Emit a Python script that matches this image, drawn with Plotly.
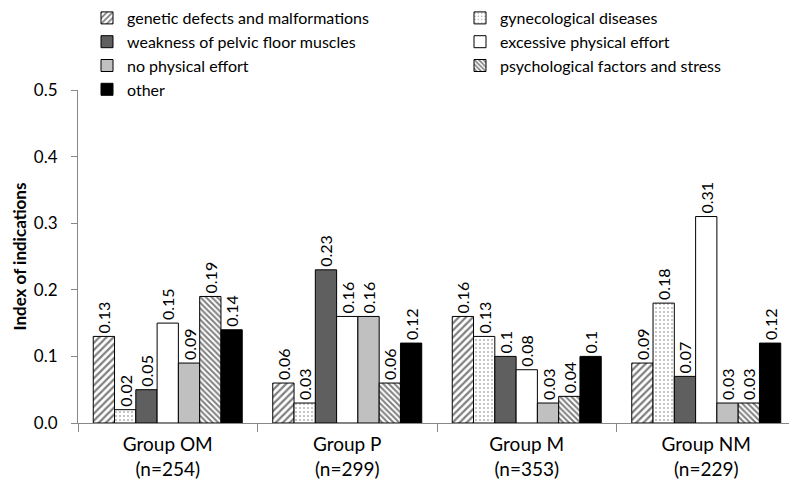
import plotly.graph_objects as go

groups = ["Group OM<br>(n=254)", "Group P<br>(n=299)", "Group M<br>(n=353)", "Group NM<br>(n=229)"]

genetic = [0.13, 0.06, 0.16, 0.09]
gynecological = [0.02, 0.03, 0.13, 0.18]
weakness = [0.05, 0.23, 0.10, 0.07]
excessive = [0.15, 0.16, 0.08, 0.31]
no_effort = [0.09, 0.16, 0.03, 0.03]
psychological = [0.19, 0.06, 0.04, 0.03]
other = [0.14, 0.12, 0.10, 0.12]

# name, values, fill, pattern, which legend column
series = [
    ("genetic defects and malformations", genetic, "white", dict(shape="/", fgcolor="black", bgcolor="white", size=5, solidity=0.45), "legend"),
    ("gynecological diseases", gynecological, "white", dict(shape=".", fgcolor="#666666", bgcolor="white", size=4, solidity=0.2), "legend2"),
    ("weakness of pelvic floor muscles", weakness, "#5f5f5f", None, "legend"),
    ("excessive physical effort", excessive, "white", None, "legend2"),
    ("no physical effort", no_effort, "#c0c0c0", None, "legend"),
    ("psychological factors and stress", psychological, "white", dict(shape="\\", fgcolor="black", bgcolor="white", size=4, solidity=0.5), "legend2"),
    ("other", other, "black", None, "legend"),
]

FONT = "Lato, Open Sans, sans-serif"
W, H = 789, 479  # page body adds an 8px margin
T, B = 82, 64
PH = H - T - B

fig = go.Figure()
for name, vals, color, pat, leg in series:
    marker = dict(color=color, line=dict(color="black", width=1))
    if pat:
        marker["pattern"] = pat
    fig.add_trace(go.Bar(
        x=groups, y=vals, name=name, marker=marker, legend=leg,
        text=[f"{v:g}" for v in vals], textposition="outside",
        textangle=-90, textfont=dict(size=16, color="black", family=FONT),
        cliponaxis=False,
    ))

legend_style = dict(
    orientation="v", yref="paper",
    y=1 + (T + 7) / PH, xanchor="left", yanchor="top",
    font=dict(size=16, family=FONT), traceorder="normal",
    bgcolor="rgba(0,0,0,0)", tracegroupgap=0,
)

fig.update_layout(
    width=W, height=H,
    margin=dict(l=70, r=1, t=T, b=B, autoexpand=False),
    barmode="group", bargap=0.17, bargroupgap=0,
    plot_bgcolor="white", paper_bgcolor="white",
    font=dict(family=FONT, color="black"),
    uniformtext=dict(minsize=16, mode="show"),
    legend=dict(legend_style, xref="container", x=79 / W),
    legend2=dict(legend_style, xref="container", x=452 / W),
    yaxis=dict(
        range=[0, 0.5], dtick=0.1, tickformat=".1f",
        showline=True, linecolor="#888888", linewidth=1,
        ticks="outside", ticklen=6, tickcolor="#888888",
        ticklabelstandoff=10,
        showgrid=False, zeroline=False, automargin=False,
        tickfont=dict(size=17),
    ),
    xaxis=dict(
        showline=True, linecolor="#888888", linewidth=1,
        ticks="outside", ticklen=8, tickcolor="#888888", tickson="boundaries",
        ticklabelstandoff=4,
        tickfont=dict(size=19), showgrid=False, automargin=False,
    ),
    annotations=[dict(
        text="<b>Index of indications</b>", textangle=-90,
        xref="paper", yref="paper", x=(11 - 70) / (W - 71), y=0.5,
        xanchor="center", yanchor="middle", showarrow=False,
        font=dict(size=17, family=FONT),
    )],
)

fig.write_html("out.html")
